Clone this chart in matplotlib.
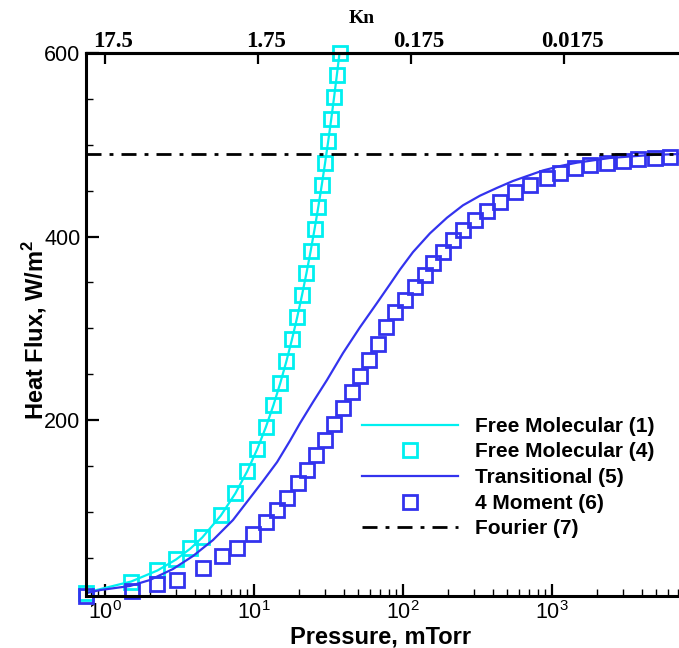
import matplotlib
matplotlib.use('Agg')
import matplotlib.pyplot as plt
import matplotlib.transforms as mtransforms
from matplotlib.ticker import FixedLocator, NullLocator, MultipleLocator, LogLocator

# Free molecular (1) line and (4) markers, mTorr vs W/m^2
fm_p = [0.75, 1.5, 2.25, 3.0, 3.75, 4.5, 6.0, 7.5, 9.0, 10.5, 12.0, 13.5, 15.0,
        16.5, 18.0, 19.5, 21.0, 22.5, 24.0, 25.5, 27.0, 28.5, 30.0, 31.5, 33.0,
        34.5, 36.0, 37.5]
fm_q = [12, 24, 36, 48, 60, 72, 96, 120, 144, 168, 192, 216, 240,
        264, 288, 312, 336, 360, 384, 408, 432, 456, 480, 504, 528,
        552, 576, 600]

# Transitional (5)
tr_p = [0.75, 0.93, 1.47, 2.0, 2.86, 3.9, 5.31, 7.23, 9.85, 11.5, 14.3, 17.4,
        20.4, 24.9, 30.9, 39.6, 51.4, 66.9, 81.8, 95.5, 116.7, 151.8, 197.4,
        252.7, 328.7, 427.5, 547.2, 711.8, 870.3, 1150, 1472, 2451, 4547, 7118]
tr_q = [11.4, 14.7, 19.1, 25.6, 37.6, 51.8, 69.2, 91.0, 119.3, 133.5, 154.2,
        177.1, 196.7, 219.6, 243.6, 273.0, 301.0, 327.5, 348.0, 364.0, 383.0,
        403.5, 420.5, 434.0, 444.5, 453.0, 460.5, 467.0, 472.0, 477.0, 480.5,
        485.6, 488.8, 489.9]

# 4 Moment (6)
mom_p = [0.75, 1.52, 2.23, 3.04, 4.55, 6.1, 7.69, 9.85, 12.0, 14.3, 16.7, 19.7,
         22.7, 26.1, 30.0, 34.4, 39.6, 45.5, 51.4, 59.1, 68.0, 76.9, 88.4,
         103.1, 120.4, 140.5, 159.0, 185.5, 216.6, 252.7, 304.2, 366.3, 447.7,
         564.6, 711.8, 925.7, 1132, 1427, 1799, 2340, 2996, 3778, 4912, 6195]
mom_q = [8.2, 13.6, 21.3, 25.6, 38.7, 51.8, 60.5, 75.8, 88.8, 101.9, 115.0,
         131.3, 145.5, 161.9, 178.3, 195.7, 213.1, 230.5, 248.0, 265.4, 282.8,
         301.4, 317.7, 330.8, 345.0, 358.0, 371.1, 383.1, 396.2, 407.1, 418.0,
         427.8, 437.6, 448.5, 456.1, 463.8, 469.2, 474.7, 477.9, 480.1, 482.3,
         484.5, 485.6, 486.6]

# Fourier (7)
fourier_q = 490

kn_ticks = [17.5, 1.75, 0.175, 0.0175]
kn_labels = ['17.5', '1.75', '0.175', '0.0175']

cyan = '#00F0F0'
blue = '#3333EE'

plt.rcParams['font.family'] = ['Liberation Sans', 'DejaVu Sans']
plt.rcParams['mathtext.fontset'] = 'custom'
plt.rcParams['mathtext.rm'] = 'Liberation Sans'

fig = plt.figure(figsize=(6.79, 6.48), dpi=100)
ax = fig.add_axes([86 / 679., 1 - 596 / 648., 593 / 679., 543 / 648.])

ax.plot(fm_p, fm_q, '-', color=cyan, lw=1.6, label='Free Molecular (1)')
ax.plot(fm_p, fm_q, 's', color=cyan, mfc='none', mec=cyan, ms=10, mew=2.0,
        label='Free Molecular (4)', clip_on=False)
ax.plot(tr_p, tr_q, '-', color=blue, lw=1.6, label='Transitional (5)')
ax.plot(mom_p, mom_q, 's', color=blue, mfc='none', mec=blue, ms=10, mew=2.0,
        label='4 Moment (6)', clip_on=False)
ax.axhline(fourier_q, color='k', lw=2, dashes=(5.4, 2.9, 1.4, 2.9),
           label='Fourier (7)')

ax.set_xscale('log')
ax.set_xlim(0.746, 7118)
ax.set_ylim(8.2, 600)

ax.yaxis.set_major_locator(FixedLocator([200, 400, 600]))
ax.yaxis.set_minor_locator(MultipleLocator(50))
ax.xaxis.set_major_locator(FixedLocator([1, 10, 100, 1000]))
ax.set_xticklabels([r'$\mathregular{10^{0}}$', r'$\mathregular{10^{1}}$',
                    r'$\mathregular{10^{2}}$', r'$\mathregular{10^{3}}$'])
ax.xaxis.set_minor_locator(LogLocator(base=10, subs=range(2, 10)))

ax.tick_params(which='major', direction='in', length=9, width=1.6,
               labelsize=15.5, pad=4)
ax.tick_params(axis='x', which='major', pad=3.5)
ax.tick_params(which='minor', direction='in', length=5, width=1.0)
ax.tick_params(axis='y', which='both', right=False)
ax.tick_params(axis='x', which='both', top=False)

for s in ['left', 'bottom', 'top']:
    ax.spines[s].set_linewidth(2.2)
ax.spines['right'].set_visible(False)

ax.set_xlabel('Pressure, mTorr', fontsize=17, fontweight='bold')
ax.xaxis.set_label_coords(0.496, -0.055)
ax.set_ylabel(r'Heat Flux, W/m$^\mathregular{2}$', fontsize=17,
              fontweight='bold')
ax.yaxis.set_label_coords(-0.062, 0.49)

# Knudsen number axis on top
ax2 = ax.twiny()
ax2.set_xscale('log')
ax2.set_xlim(23.3, 0.0031)
ax2.xaxis.set_major_locator(FixedLocator(kn_ticks))
ax2.xaxis.set_minor_locator(NullLocator())
ax2.set_xticklabels(kn_labels, family='Liberation Serif', fontweight='bold',
                    fontsize=16.5)
ax2.tick_params(which='major', direction='in', length=8, width=1.6, pad=1)
ax2.spines['right'].set_visible(False)
ax2.spines['top'].set_linewidth(2.2)
ax2.set_xlabel('Kn', family='Liberation Serif', fontweight='bold',
               fontsize=14)
ax2.xaxis.set_label_coords(0.465, 1.055)

# labels sit a little right of their ticks in the original
shift = mtransforms.ScaledTranslation(0.08, 0, fig.dpi_scale_trans)
for tick in ax2.xaxis.get_major_ticks():
    tick.label2.set_transform(tick.label2.get_transform() + shift)

leg = ax.legend(loc='upper left', bbox_to_anchor=(0.465, 0.33),
                frameon=False, handlelength=4.6, handletextpad=0.85,
                labelspacing=0.32, borderpad=0, borderaxespad=0,
                prop={'weight': 'bold', 'size': 15})

fig.savefig('out.png', dpi=100)
